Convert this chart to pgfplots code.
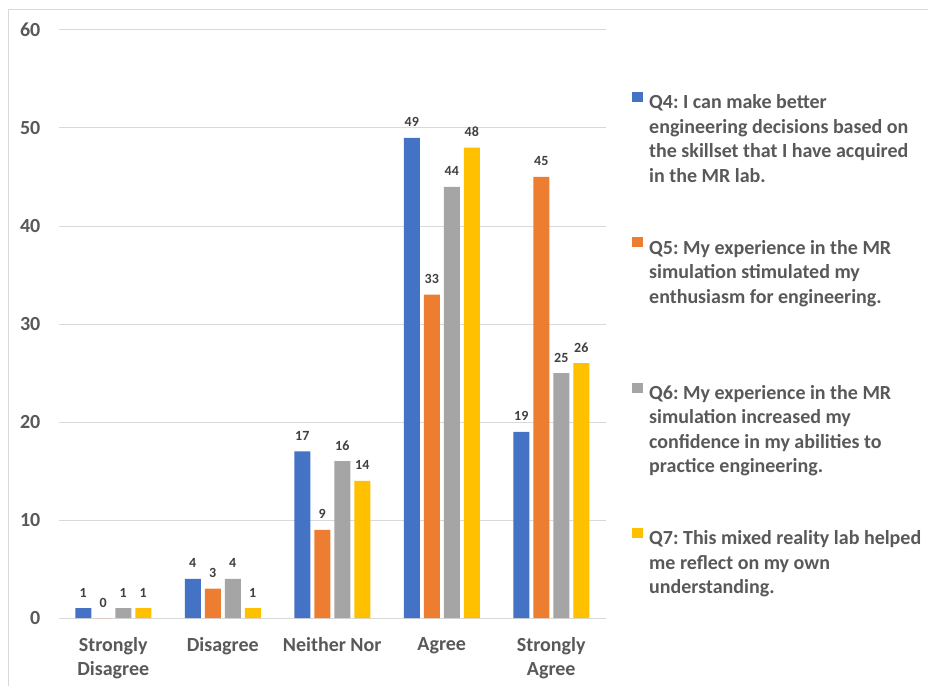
\documentclass[border=0pt]{standalone}
\usepackage{fontspec}
\setmainfont{Carlito}
\usepackage{pgfplots}
\pgfplotsset{compat=1.18}
\frenchspacing
\definecolor{cBlue}{HTML}{4472C4}
\definecolor{cOrange}{HTML}{ED7D31}
\definecolor{cGray}{HTML}{A5A5A5}
\definecolor{cYellow}{HTML}{FFC000}
\definecolor{textgray}{HTML}{595959}
\definecolor{labelgray}{HTML}{404040}
\definecolor{gridgray}{HTML}{D9D9D9}
\newcommand{\bigfont}{\fontsize{20}{24.4}\selectfont\bfseries}
\newcommand{\lgtext}[1]{\parbox[t]{300pt}{#1}}
\pgfplotsset{
  sqlegend/.style={legend image code/.code={\fill[##1,draw=none] (0pt,0.5pt) rectangle (11pt,10.5pt);}}
}
\begin{document}
\begin{tikzpicture}
\useasboundingbox (0,0) rectangle (928pt,686pt);
\fill[white] (0,0) rectangle (928pt,686pt);
\draw[gridgray, line width=1pt] (8.5pt,0pt) -- (8.5pt,676.5pt) -- (928pt,676.5pt);
\begin{axis}[
  scale only axis, width=547.5pt, height=588pt,
  at={(58.5pt,68pt)}, anchor=south west,
  xmin=-0.5, xmax=4.5, ymin=0, ymax=60,
  ybar=4pt, bar width=16pt,
  xtick={0,1,2,3,4},
  xticklabels={{Strongly\\Disagree},{Disagree},{Neither Nor},{Agree},{Strongly\\Agree}},
  xticklabel style={align=center, font=\bigfont, text=textgray, inner sep=0pt, anchor=north, yshift=-19pt},
  ytick={0,10,...,60},
  yticklabel style={font=\bigfont, text=textgray, inner sep=0pt, anchor=east, xshift=-18pt},
  /pgf/number format/assume math mode=true,
  major tick length=0pt,
  ymajorgrids, grid style={draw=gridgray, line width=1pt},
  axis line style={draw=none},
  nodes near coords,
  every node near coord/.append style={font=\fontsize{14}{16}\selectfont\bfseries, text=labelgray, inner sep=0pt, anchor=base, yshift=11pt},
  legend cell align=left,
  legend style={at={(1.0475,0.8946)}, anchor=north west, draw=none, fill=none,
    inner sep=0pt, row sep=127pt,
    nodes={inner sep=0pt, font=\bigfont, text=textgray},
    /tikz/every odd column/.style={column sep=6pt}},
]
\addplot[fill=cBlue, draw=none, sqlegend] coordinates {(0,1) (1,4) (2,17) (3,49) (4,19)};
\addplot[fill=cOrange, draw=none, sqlegend] coordinates {(0,0) (1,3) (2,9) (3,33) (4,45)};
\addplot[fill=cGray, draw=none, sqlegend] coordinates {(0,1) (1,4) (2,16) (3,44) (4,25)};
\addplot[fill=cYellow, draw=none, sqlegend] coordinates {(0,1) (1,1) (2,14) (3,48) (4,26)};
\legend{
  \lgtext{Q4: I can make better\\engineering decisions based on\\the skillset that I have acquired\\in the MR lab.},
  \lgtext{Q5: My experience in the MR\\simulation stimulated my\\enthusiasm for engineering.},
  \lgtext{Q6: My experience in the MR\\simulation increased my\\confidence in my abilities to\\practice engineering.},
  \lgtext{Q7: This mixed reality lab helped\\me reflect on my own\\understanding.}
}
\end{axis}
\end{tikzpicture}
\end{document}
